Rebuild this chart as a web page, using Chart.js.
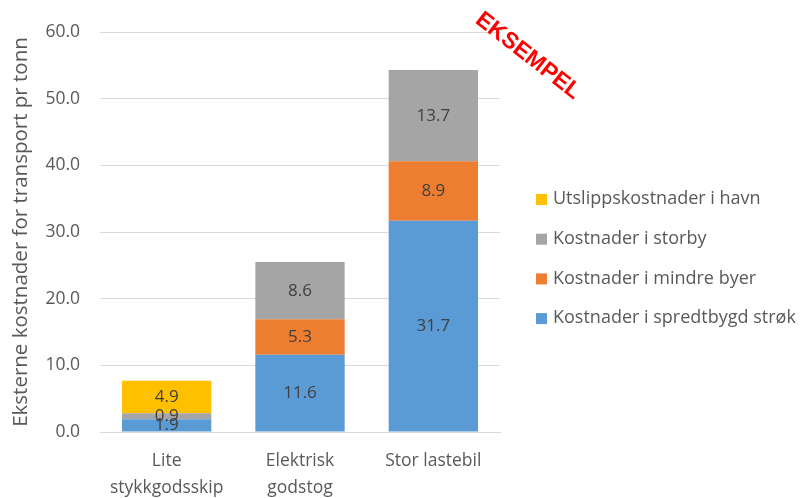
<!DOCTYPE html>
<html>
<head>
<meta charset="utf-8">
<script src="https://cdn.jsdelivr.net/npm/chart.js@4"></script>
<style>
  html, body { margin: 0; padding: 0; background: #fff; }
  #wrap { width: 805px; height: 498px; position: relative; }
</style>
</head>
<body>
<div id="wrap"><canvas id="chart" width="805" height="498"></canvas></div>
<script>
// categories and series
var categories = [["Lite", "stykkgodsskip"], ["Elektrisk", "godstog"], "Stor lastebil"];
var spredtbygd = [1.9, 11.6, 31.7];
var mindreByer = [0, 5.3, 8.9];
var storby = [0.9, 8.6, 13.7];
var havn = [4.9, 0, 0];
var yTicks = [0, 10, 20, 30, 40, 50, 60];

var FONT = "'Open Sans', 'Noto Sans', sans-serif";
var TEXT = "#595959";

// draws the value in the middle of each segment
var valueLabels = {
    id: "valueLabels",
    afterDatasetsDraw: function(chart) {
        var ctx = chart.ctx;
        ctx.save();
        ctx.font = "17px " + FONT;
        ctx.fillStyle = "#404040";
        ctx.textAlign = "center";
        ctx.textBaseline = "middle";
        chart.data.datasets.forEach(function(ds, i) {
            chart.getDatasetMeta(i).data.forEach(function(bar, j) {
                var v = ds.data[j];
                if (!v) return;
                var mid = (bar.y + bar.base) / 2;
                ctx.fillText(v.toFixed(1), bar.x, mid);
            });
        });
        ctx.restore();
    }
};

// legend on the right, top series first
var sideLegend = {
    id: "sideLegend",
    afterDraw: function(chart) {
        var ctx = chart.ctx;
        var dss = chart.data.datasets;
        ctx.save();
        ctx.font = "18px " + FONT;
        ctx.textBaseline = "middle";
        ctx.textAlign = "left";
        var y = 199;
        for (var i = dss.length - 1; i >= 0; i--) {
            ctx.fillStyle = dss[i].backgroundColor;
            ctx.fillRect(536, y - 5, 11, 11);
            ctx.fillStyle = TEXT;
            ctx.fillText(dss[i].label, 553, y);
            y += 39.7;
        }
        // red stamp
        ctx.translate(528, 56);
        ctx.rotate(38 * Math.PI / 180);
        ctx.font = "bold 23px 'Liberation Sans', Arial, sans-serif";
        ctx.fillStyle = "#FF0000";
        ctx.textAlign = "center";
        ctx.fillText("EKSEMPEL", 0, 0);
        ctx.restore();
    }
};

new Chart(document.getElementById("chart"), {
    type: "bar",
    data: {
        labels: categories,
        datasets: [
            { label: "Kostnader i spredtbygd strøk", data: spredtbygd, backgroundColor: "#5B9BD5" },
            { label: "Kostnader i mindre byer", data: mindreByer, backgroundColor: "#ED7D31" },
            { label: "Kostnader i storby", data: storby, backgroundColor: "#A5A5A5" },
            { label: "Utslippskostnader i havn", data: havn, backgroundColor: "#FFC000" }
        ]
    },
    options: {
        responsive: false,
        animation: false,
        layout: { padding: { left: 0, top: 32, right: 305, bottom: 0 } },
        datasets: { bar: { barPercentage: 0.67, categoryPercentage: 1 } },
        plugins: { legend: { display: false }, tooltip: { enabled: false } },
        scales: {
            x: {
                stacked: true,
                afterFit: function(s) { s.height = 66; },
                grid: { display: false },
                border: { color: "#D9D9D9" },
                ticks: { color: TEXT, font: { family: FONT, size: 17.5, lineHeight: 1.55 }, padding: 7 }
            },
            y: {
                stacked: true,
                min: 0,
                max: 60,
                afterFit: function(s) { s.width = 100; },
                afterBuildTicks: function(s) { s.ticks = yTicks.map(function(v) { return { value: v }; }); },
                grid: { color: "#D9D9D9", drawTicks: false },
                border: { display: false },
                ticks: {
                    color: TEXT,
                    padding: 20,
                    font: { family: FONT, size: 17.5 },
                    callback: function(v) { return v.toFixed(1); }
                },
                title: {
                    display: true,
                    text: "Eksterne kostnader for transport pr tonn",
                    color: TEXT,
                    font: { family: FONT, size: 20.5 },
                    padding: { top: 9, bottom: 4 }
                }
            }
        }
    },
    plugins: [valueLabels, sideLegend]
});
</script>
</body>
</html>
